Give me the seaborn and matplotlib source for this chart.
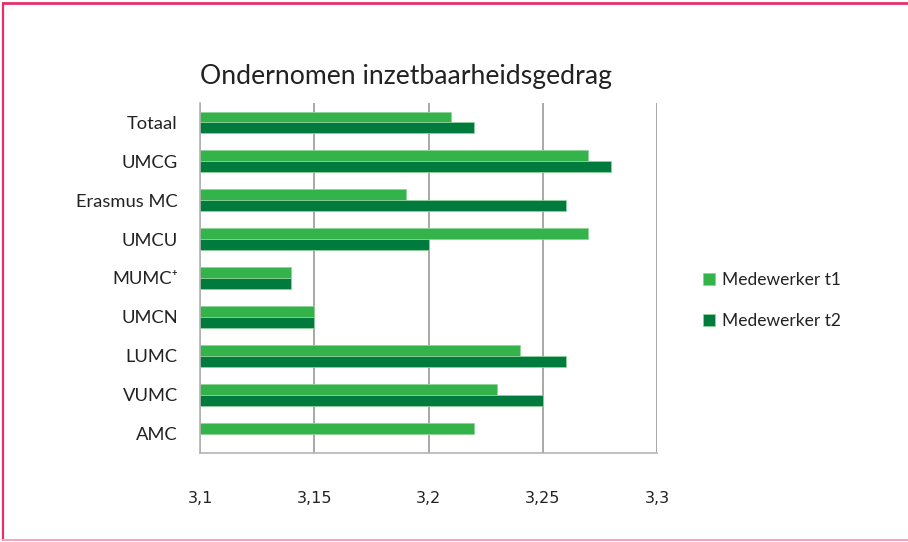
import numpy as np
import pandas as pd
import matplotlib
matplotlib.use('Agg')
import matplotlib.pyplot as plt
from matplotlib.lines import Line2D
from matplotlib.ticker import FixedLocator, FuncFormatter
import seaborn as sns

# ========== DATA ==========
categories = ['Totaal', 'UMCG', 'Erasmus MC', 'UMCU', 'MUMC⁺', 'UMCN', 'LUMC', 'VUMC', 'AMC']
t1 = [3.21, 3.27, 3.19, 3.27, 3.14, 3.15, 3.24, 3.23, 3.22]
t2 = [3.22, 3.28, 3.26, 3.20, 3.14, 3.15, 3.26, 3.25, np.nan]
series = ['Medewerker t1', 'Medewerker t2']
x_ticks = [3.1, 3.15, 3.2, 3.25, 3.3]

df = pd.DataFrame({'UMC': categories * 2,
                   'Waarde': t1 + t2,
                   'Groep': [series[0]] * len(categories) + [series[1]] * len(categories)})

sns.set_style('white')
plt.rcParams['font.family'] = ['Lato', 'DejaVu Sans']

fig = plt.figure(figsize=(9.08, 5.42), dpi=100)
ax = fig.add_axes([0.2203, 0.1642, 0.5033, 0.6458])

sns.barplot(data=df, y='UMC', x='Waarde', hue='Groep', order=categories,
            palette=['#33b34a', '#007a3d'], saturation=1, width=0.56, gap=0,
            edgecolor='#8fd39a', linewidth=0.6, ax=ax, orient='h')

ax.set_xlim(3.1, 3.3)
ax.set_ylim(len(categories) - 0.5, -0.5)
ax.set_xlabel('')
ax.set_ylabel('')

# grid and spines
ax.xaxis.set_major_locator(FixedLocator(x_ticks))
ax.xaxis.set_major_formatter(FuncFormatter(lambda v, p: f'{v:g}'.replace('.', ',')))
ax.grid(axis='x', color='#9a9a9a', linewidth=1.2)
ax.grid(axis='y', visible=False)
ax.set_axisbelow(True)
for s in ['top', 'right']:
    ax.spines[s].set_visible(False)
for s in ['left', 'bottom']:
    ax.spines[s].set_color('#b4b4b4')
    ax.spines[s].set_linewidth(1.2)

ax.tick_params(axis='x', length=5, color='#b4b4b4', width=1.2, pad=22,
               labelsize=11.5, labelcolor='#222222')
for lab in ax.get_xticklabels():
    lab.set_fontfamily('DejaVu Sans')
ax.tick_params(axis='y', which='major', length=0, pad=16, labelsize=13.2, labelcolor='#222222')
ax.yaxis.set_minor_locator(FixedLocator(np.arange(-0.5, len(categories), 1)))
ax.tick_params(axis='y', which='minor', length=6, color='#b4b4b4', width=1.2)

ax.set_title('Ondernomen inzetbaarheidsgedrag', fontsize=19.2, color='#222222',
             pad=14, loc='left', x=0.0)

ax.legend(loc='center left', bbox_to_anchor=(1.1, 0.436), frameon=False,
          fontsize=12.5, handlelength=0.7, handleheight=0.7, handletextpad=0.4,
          labelspacing=1.45, borderpad=0, borderaxespad=0, labelcolor='#222222')

# page frame
fig.add_artist(Line2D([0.003, 1.0], [0.995, 0.995], color='#e5306a', linewidth=2))
fig.add_artist(Line2D([0.0035, 0.0035], [0.003, 0.995], color='#e5306a', linewidth=1.6))
fig.add_artist(Line2D([0.003, 1.0], [0.003, 0.003], color='#f4a5c0', linewidth=1.5))

fig.savefig('out.png', dpi=100)
